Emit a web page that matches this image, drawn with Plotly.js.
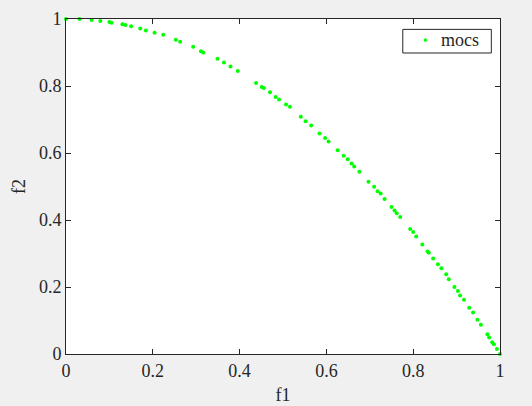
<!DOCTYPE html>
<html>
<head>
<meta charset="utf-8">
<script src="https://cdn.plot.ly/plotly-3.0.1.min.js"></script>
<style>html,body{margin:0;padding:0;background:#f0f0f0;}#chart{width:532px;height:406px;}</style>
</head>
<body>
<div id="chart"></div>
<script>
const seriesName = "mocs";
const f1 = [0, 0.031, 0.059, 0.079, 0.100, 0.105, 0.130, 0.137, 0.150, 0.171,
  0.184, 0.204, 0.224, 0.253, 0.263, 0.293, 0.311, 0.316, 0.349, 0.364,
  0.379, 0.396, 0.438, 0.451, 0.456, 0.470, 0.483, 0.491, 0.507, 0.516,
  0.541, 0.552, 0.565, 0.584, 0.597, 0.605, 0.626, 0.640, 0.649, 0.658,
  0.664, 0.676, 0.697, 0.710, 0.718, 0.725, 0.734, 0.750, 0.757, 0.762,
  0.770, 0.793, 0.800, 0.807, 0.821, 0.833, 0.836, 0.846, 0.857, 0.865,
  0.876, 0.882, 0.895, 0.903, 0.908, 0.917, 0.929, 0.938, 0.948, 0.956,
  0.971, 0.975, 0.982, 0.986, 0.993, 1.0];
const f2 = [1.0, 1.0, 0.997, 0.994, 0.991, 0.989, 0.984, 0.982, 0.978, 0.972,
  0.966, 0.959, 0.953, 0.938, 0.932, 0.917, 0.904, 0.900, 0.881, 0.870,
  0.858, 0.845, 0.809, 0.797, 0.794, 0.781, 0.767, 0.760, 0.745, 0.738,
  0.708, 0.695, 0.682, 0.658, 0.645, 0.634, 0.608, 0.592, 0.581, 0.569,
  0.560, 0.544, 0.514, 0.499, 0.486, 0.479, 0.463, 0.439, 0.428, 0.420,
  0.409, 0.373, 0.364, 0.351, 0.327, 0.306, 0.302, 0.285, 0.268, 0.256,
  0.238, 0.223, 0.200, 0.188, 0.175, 0.162, 0.138, 0.124, 0.102, 0.087,
  0.059, 0.049, 0.035, 0.029, 0.015, 0.0];
const tickVals = [0, 0.2, 0.4, 0.6, 0.8, 1];
const tickText = ["0", "0.2", "0.4", "0.6", "0.8", "1"];

const font = {family: "'Liberation Serif', 'Times New Roman', serif", size: 18, color: "#262626"};
const axisCommon = {
  range: [0, 1], tickvals: tickVals, ticktext: tickText,
  showgrid: false, zeroline: false, showline: true, mirror: "ticks",
  linecolor: "#262626", linewidth: 1, ticks: "inside", ticklen: 5,
  tickcolor: "#262626", tickwidth: 1, tickfont: font, fixedrange: true
};
const green = "#00ff00";

const trace = {
  x: f1, y: f2, type: "scatter", mode: "markers", name: seriesName,
  marker: {color: green, size: 4, symbol: "circle"},
  cliponaxis: false, showlegend: false
};

// Legend box (MATLAB style) drawn as shapes + annotation
const shapes = [
  {type: "rect", xref: "paper", yref: "paper", x0: 0.776, x1: 0.980, y0: 0.8985, y1: 0.969,
   fillcolor: "#ffffff", line: {color: "#262626", width: 1}, layer: "above"},
  {type: "circle", xref: "paper", yref: "paper", xsizemode: "pixel", ysizemode: "pixel",
   xanchor: 0.828, yanchor: 0.937, x0: -1.5, x1: 1.5, y0: -1.5, y1: 1.5,
   fillcolor: green, line: {color: green, width: 0.5}, layer: "above"}
];
const annotations = [
  {text: seriesName, xref: "paper", yref: "paper", x: 0.859, y: 0.937,
   xanchor: "left", yanchor: "middle", showarrow: false, font: font}
];

const layout = {
  width: 532, height: 406,
  margin: {l: 66, r: 32, t: 19, b: 52, pad: 0},
  paper_bgcolor: "#f0f0f0", plot_bgcolor: "#ffffff",
  font: font,
  xaxis: Object.assign({}, axisCommon, {title: {text: "f1", font: font, standoff: 8}}),
  yaxis: Object.assign({}, axisCommon, {title: {text: "f2", font: font, standoff: 8}}),
  showlegend: false,
  shapes: shapes,
  annotations: annotations
};

Plotly.newPlot("chart", [trace], layout, {staticPlot: true, displayModeBar: false});
</script>
</body>
</html>
